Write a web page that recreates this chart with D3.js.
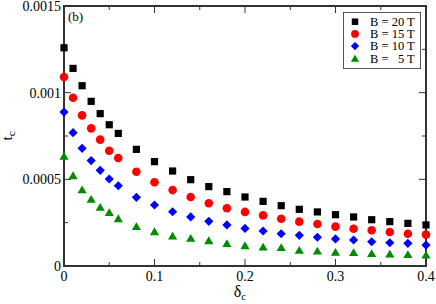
<!DOCTYPE html>
<html><head><meta charset="utf-8">
<script src="https://cdn.jsdelivr.net/npm/d3@7"></script>
<style>body{margin:0;background:#fff}svg{display:block}svg text{font-family:"Liberation Serif","Times New Roman",Times,"DejaVu Serif","Noto Serif",serif}</style>
</head><body>
<svg id="c" width="436" height="304"></svg>
<script>
const deltaC = [0,0.01,0.02,0.03,0.04,0.05,0.06,0.08,0.10,0.12,0.14,0.16,0.18,0.20,0.22,0.24,0.26,0.28,0.30,0.32,0.34,0.36,0.38,0.40];
const tB20 = [0.001259,0.001140,0.001040,0.000950,0.000879,0.000815,0.000765,0.000673,0.000602,0.000548,0.000498,0.000458,0.000429,0.000398,0.000373,0.000348,0.000327,0.000312,0.000296,0.000283,0.000267,0.000256,0.000246,0.000237];
const tB15 = [0.001090,0.000971,0.000869,0.000794,0.000729,0.000665,0.000623,0.000544,0.000483,0.000438,0.000398,0.000362,0.000333,0.000312,0.000292,0.000273,0.000256,0.000242,0.000227,0.000215,0.000206,0.000196,0.000186,0.000181];
const tB10 = [0.000888,0.000769,0.000679,0.000608,0.000552,0.000502,0.000463,0.000396,0.000352,0.000313,0.000283,0.000258,0.000237,0.000217,0.000202,0.000186,0.000177,0.000166,0.000156,0.000150,0.000140,0.000134,0.000131,0.000121];
const tB5 = [0.000635,0.000523,0.000442,0.000387,0.000340,0.000310,0.000275,0.000229,0.000200,0.000175,0.000162,0.000148,0.000131,0.000119,0.000111,0.000108,0.0000923,0.0000883,0.0000808,0.0000790,0.0000733,0.0000710,0.0000675,0.0000652];
const seriesNames = ["B = 20 T","B = 15 T","B = 10 T","B =   5 T"];
const seriesColors = ["#000000","#ff0000","#0000ff","#008b00"];
const seriesShapes = ["square","circle","diamond","triangle"];
const xTicks = [0,0.1,0.2,0.3,0.4];
const xTickLabels = ["0","0.1","0.2","0.3","0.4"];
const yTicks = [0,0.0005,0.001,0.0015];
const yTickLabels = ["0","0.0005","0.001","0.0015"];

const seriesData = [tB20,tB15,tB10,tB5];
const svg = d3.select("#c");
const L=64,R=426,T=6,B=266;
const x = d3.scaleLinear().domain([0,0.4]).range([L,R]);
const y = d3.scaleLinear().domain([0,0.0015]).range([B,T]);

function shapePath(s){
  if(s==="square") return "M-3.6,-3.6H3.6V3.6H-3.6Z";
  if(s==="circle") return d3.symbol(d3.symbolCircle,58)();
  if(s==="diamond") return "M0,-4.6L4.6,0L0,4.6L-4.6,0Z";
  return "M0,-4L4.6,3.8L-4.6,3.8Z";
}
function txt(sel){ return sel.append("text"); }

const axCol="#333";
svg.append("rect").attr("x",L).attr("y",T).attr("width",R-L).attr("height",B-T)
  .attr("fill","none").attr("stroke",axCol).attr("stroke-width",2);

const g=svg.append("g").attr("stroke",axCol).attr("stroke-width",1);
const xMinor=[0.05,0.15,0.25,0.35];
const yMinor=[0.00025,0.00075,0.00125];
xTicks.forEach(v=>{g.append("line").attr("x1",x(v)).attr("x2",x(v)).attr("y1",B).attr("y2",B-7);
  g.append("line").attr("x1",x(v)).attr("x2",x(v)).attr("y1",T).attr("y2",T+7);});
xMinor.forEach(v=>{g.append("line").attr("x1",x(v)).attr("x2",x(v)).attr("y1",B).attr("y2",B-4);
  g.append("line").attr("x1",x(v)).attr("x2",x(v)).attr("y1",T).attr("y2",T+4);});
yTicks.forEach(v=>{g.append("line").attr("y1",y(v)).attr("y2",y(v)).attr("x1",L).attr("x2",L+7);
  g.append("line").attr("y1",y(v)).attr("y2",y(v)).attr("x1",R).attr("x2",R-7);});
yMinor.forEach(v=>{g.append("line").attr("y1",y(v)).attr("y2",y(v)).attr("x1",L).attr("x2",L+4);
  g.append("line").attr("y1",y(v)).attr("y2",y(v)).attr("x1",R).attr("x2",R-4);});

xTicks.forEach((v,i)=>txt(svg).attr("x",x(v)).attr("y",B+15).attr("text-anchor","middle")
  .attr("font-size",14).text(xTickLabels[i]));
yTicks.forEach((v,i)=>txt(svg).attr("x",L-3).attr("y",y(v)+5).attr("text-anchor","end")
  .attr("font-size",14).text(yTickLabels[i]));

const xt=txt(svg).attr("x",240).attr("y",297).attr("text-anchor","middle").attr("font-size",16);
xt.append("tspan").text("δ");
xt.append("tspan").attr("font-size",11).attr("dy",3).text("c");
const yt=txt(svg).attr("transform","translate(12,136) rotate(-90)").attr("text-anchor","middle").attr("font-size",15);
yt.append("tspan").text("t");
yt.append("tspan").attr("font-size",11).attr("dy",3).text("c");

txt(svg).attr("x",68).attr("y",21).attr("font-size",13).text("(b)");

seriesData.forEach((arr,si)=>{
  svg.append("g").selectAll("path").data(arr).join("path")
    .attr("d",shapePath(seriesShapes[si]))
    .attr("transform",(d,i)=>`translate(${x(deltaC[i])},${y(d)})`)
    .attr("fill",seriesColors[si]);
});

const lg=svg.append("g");
lg.append("rect").attr("x",343.5).attr("y",12.5).attr("width",77).attr("height",56)
  .attr("fill","#fff").attr("stroke","#555").attr("stroke-width",1);
seriesNames.forEach((n,i)=>{
  const yy=21.7+i*12.2;
  lg.append("path").attr("d",shapePath(seriesShapes[i])).attr("transform",`translate(355,${yy}) scale(0.9)`).attr("fill",seriesColors[i]);
  txt(lg).attr("x",370).attr("y",yy+4.3).attr("font-size",12.5).style("white-space","pre").text(n);
});
</script>
</body></html>
